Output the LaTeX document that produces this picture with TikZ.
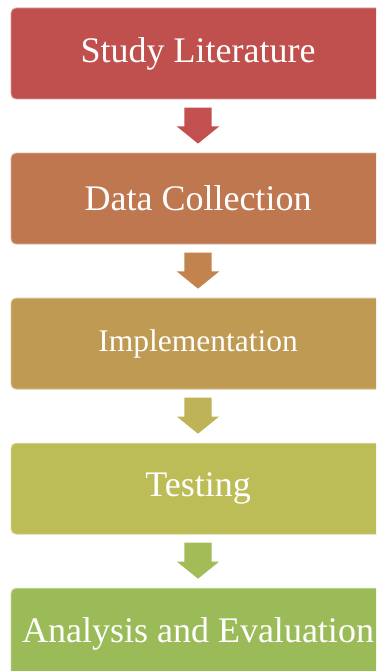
\documentclass[tikz,border=0pt]{standalone}
\usepackage{fontspec}
\setmainfont{Liberation Serif}
\usetikzlibrary{positioning, calc, shapes.arrows}

\definecolor{stageA}{HTML}{C0504D}
\definecolor{stageB}{HTML}{BF774F}
\definecolor{stageC}{HTML}{BE9A52}
\definecolor{stageD}{HTML}{BDBD58}
\definecolor{stageE}{HTML}{9BBB59}
\definecolor{flowA}{HTML}{C1504E}
\definecolor{flowB}{HTML}{C2834F}
\definecolor{flowC}{HTML}{BFB357}
\definecolor{flowD}{HTML}{A3BC58}

\begin{document}
\begin{tikzpicture}[
  x=1pt, y=-1pt,
  node distance=53.25pt,
  stage/.style={fill=#1, draw=#1!55!white, line width=0.8pt, rounded corners=5pt,
    minimum width=374pt, minimum height=91pt, inner sep=0pt, text=white,
    font=\fontsize{36}{40}\selectfont},
  flow/.style={single arrow, fill=#1, draw=none, shape border rotate=270,
    minimum height=36pt, minimum width=0pt, single arrow head extend=7.5pt,
    single arrow tip angle=102, single arrow head indent=0pt,
    inner xsep=13.5pt, inner ysep=0pt, yshift=6pt}
]
\useasboundingbox (0,0) rectangle (376,671);
\clip (0,0) rectangle (376,671);

% the five stages
\node[stage=stageA] (study) at (198,53.5) {Study Literature};
\node[stage=stageB, below=of study] (data) {Data Collection};
\node[stage=stageC, below=of data, font=\fontsize{31.5}{35}\selectfont] (impl) {Implementation};
\node[stage=stageD, below=of impl] (test) {Testing};
\node[stage=stageE, below=of test] (eval) {Analysis and Evaluation};

% block arrows in the gaps
\node[flow=flowA] (f1) at ($(study.south)!0.5!(data.north)$) {};
\node[flow=flowB] (f2) at ($(data.south)!0.5!(impl.north)$) {};
\node[flow=flowC] (f3) at ($(impl.south)!0.5!(test.north)$) {};
\node[flow=flowD] (f4) at ($(test.south)!0.5!(eval.north)$) {};
\end{tikzpicture}
\end{document}
